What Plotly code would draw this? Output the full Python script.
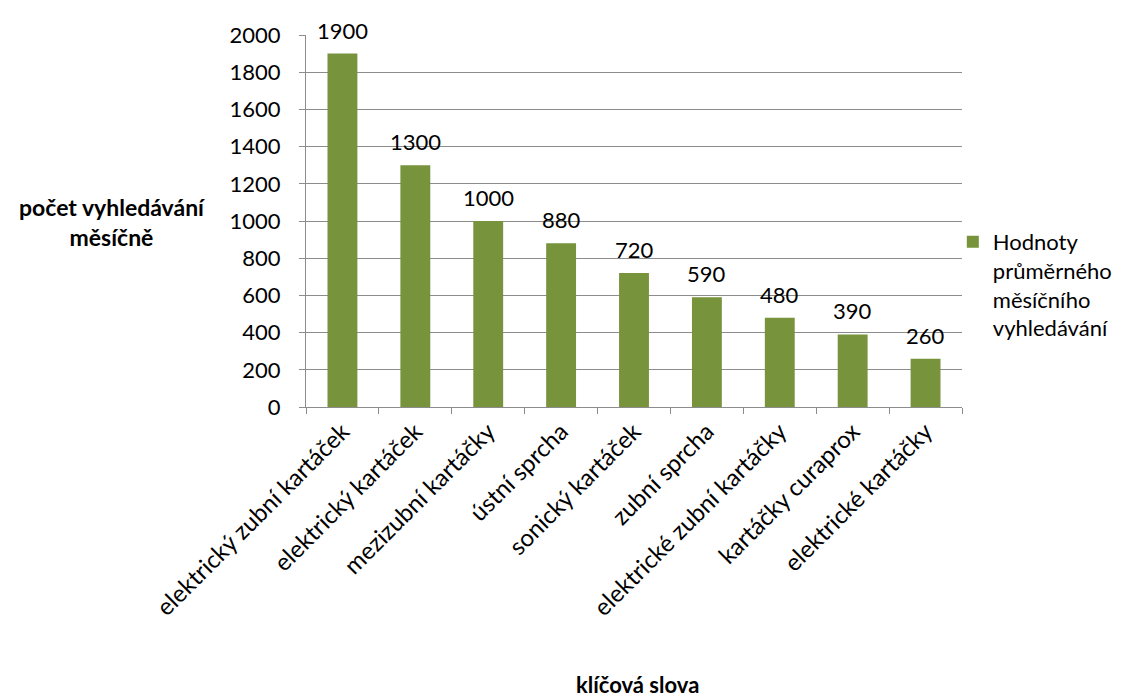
import plotly.graph_objects as go

# Keyword search volumes (average monthly searches)
keywords = [
    "elektrický zubní kartáček",
    "elektrický kartáček",
    "mezizubní kartáčky",
    "ústní sprcha",
    "sonický kartáček",
    "zubní sprcha",
    "elektrické zubní kartáčky",
    "kartáčky curaprox",
    "elektrické kartáčky",
]
searches = [1900, 1300, 1000, 880, 720, 590, 480, 390, 260]
y_ticks = [0, 200, 400, 600, 800, 1000, 1200, 1400, 1600, 1800, 2000]

series_name = "Hodnoty<br>průměrného<br>měsíčního<br>vyhledávání"
bar_color = "#77933C"
grid_color = "#8C8C8C"
font_family = "Lato, 'Open Sans', sans-serif"

fig = go.Figure(
    go.Bar(
        x=keywords,
        y=searches,
        name=series_name,
        marker=dict(color=bar_color, line=dict(width=0)),
        width=0.41,
        showlegend=True,
        hoverinfo="x+y",
    )
)

# value labels above each bar
value_labels = [
    dict(
        x=k, y=v, xref="x", yref="y",
        text=str(v),
        showarrow=False,
        xanchor="center", yanchor="bottom",
        yshift=8,
        font=dict(size=22, color="#000000", family=font_family),
    )
    for k, v in zip(keywords, searches)
]

fig.update_layout(
    width=1131,
    height=699,
    margin=dict(l=306, r=169, t=35, b=292),
    paper_bgcolor="white",
    plot_bgcolor="white",
    font=dict(family=font_family, size=22, color="#000000"),
    showlegend=True,
    legend=dict(
        x=0.986,
        y=0.5,
        xanchor="left",
        yanchor="top",
        valign="top",
        font=dict(size=22, family=font_family),
        bgcolor="rgba(0,0,0,0)",
    ),
    annotations=value_labels + [
        dict(
            text="<b>počet vyhledávání<br>měsíčně</b>",
            xref="paper", yref="paper",
            x=-0.295, y=0.497,
            xanchor="center", yanchor="middle",
            showarrow=False,
            font=dict(size=23, family=font_family),
            align="center",
        ),
        dict(
            text="<b>klíčová slova</b>",
            xref="paper", yref="paper",
            x=0.505, y=-0.745,
            xanchor="center", yanchor="middle",
            showarrow=False,
            font=dict(size=22, family=font_family),
        ),
    ],
)

fig.update_yaxes(
    range=[0, 2000],
    tickvals=y_ticks,
    showgrid=True,
    gridcolor=grid_color,
    gridwidth=1,
    showline=True,
    linecolor=grid_color,
    linewidth=1,
    ticks="outside",
    ticklen=6,
    tickcolor=grid_color,
    ticklabelstandoff=14,
    tickfont=dict(size=22),
    zeroline=False,
)

fig.update_xaxes(
    type="category",
    showgrid=False,
    showline=True,
    linecolor=grid_color,
    linewidth=1,
    ticks="outside",
    tickson="boundaries",
    ticklen=6,
    tickcolor=grid_color,
    tickangle=-45,
    tickfont=dict(size=24),
)

fig.write_html("out.html")
